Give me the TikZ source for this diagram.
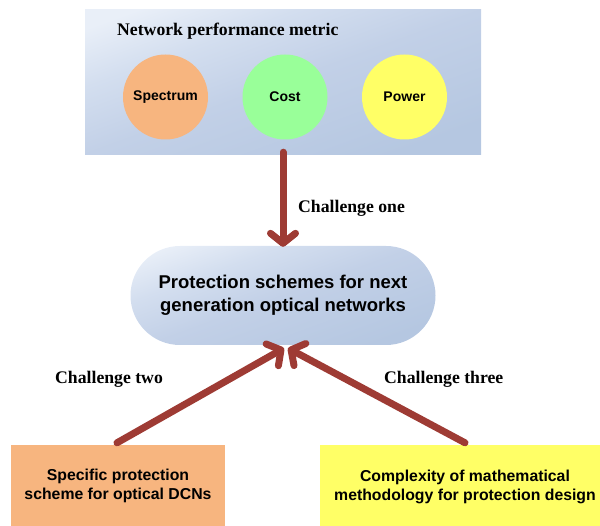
\documentclass[tikz,border=0pt]{standalone}
\usepackage{fontspec}
\setmainfont{Liberation Serif}
\setsansfont{Liberation Sans}
\usetikzlibrary{arrows.meta,shapes.misc}
\definecolor{arrowred}{HTML}{9E3B34}
\definecolor{orng}{HTML}{F7B57F}
\definecolor{grn}{HTML}{99FF99}
\definecolor{ylw}{HTML}{FFFF66}
\definecolor{bluelight}{HTML}{E9EFF8}
\definecolor{bluemidlight}{HTML}{D3DEEF}
\definecolor{bluemid}{HTML}{C2D0E7}
\definecolor{bluedark}{HTML}{B5C7E1}
\pgfdeclareverticalshading{panelshade}{100bp}{color(0bp)=(bluedark); color(25bp)=(bluedark);
  color(50bp)=(bluemid); color(65bp)=(bluemidlight); color(78bp)=(bluelight); color(100bp)=(bluelight)}
\tikzset{
  bigarrow/.style={draw=arrowred, line width=7pt, line cap=round,
    -{Straight Barb[round,length=10pt,width=25pt]}},
  metric/.style={circle, minimum size=85pt, inner sep=0pt,
    font=\sffamily\bfseries\fontsize{14}{16}\selectfont},
  seriflabel/.style={font=\rmfamily\bfseries\fontsize{17.7}{20}\selectfont, inner sep=0pt},
  bottombox/.style={inner sep=0pt, align=center,
    font=\sffamily\bfseries\fontsize{15.8}{19}\selectfont},
  bluegrad/.style={shade, shading=panelshade, shading angle=20},
}
\begin{document}
\begin{tikzpicture}[x=1pt,y=-1pt]
\useasboundingbox (0,0) rectangle (600,526);
% top panel
\node[bluegrad, minimum width=396pt, minimum height=145pt, inner sep=0pt] (panel) at (283,82.5) {};
\node[seriflabel, anchor=west] (title) at (117,31) {Network performance metric};
\node[metric, fill=orng] (spec) at (165.5,97) {Spectrum};
\node[metric, fill=grn] (cost) at (285,97) {Cost};
\node[metric, fill=ylw] (power) at (404.5,97) {Power};
% center stadium
\node[rounded rectangle, bluegrad, minimum width=305pt, minimum height=99pt, inner sep=0pt,
  align=center, font=\sffamily\bfseries\fontsize{18.5}{23}\selectfont] (prot) at (283,295.5)
  {Protection schemes for next\\generation optical networks};
% bottom boxes
\node[bottombox, fill=orng, minimum width=214pt, minimum height=82pt] (dcn) at (118,486)
  {Specific protection\\scheme for optical DCNs};
\node[fill=ylw, minimum width=282pt, minimum height=82pt, inner sep=0pt] (compbox) at (461,486) {};
\node[bottombox] (comp) at (465,487)
  {Complexity of mathematical\\methodology for protection design};
% labels
\node[seriflabel, anchor=west] (l1) at (298,208) {Challenge one};
\node[seriflabel, anchor=west] (l2) at (55,379) {Challenge two};
\node[seriflabel, anchor=west] (l3) at (384,379) {Challenge three};
% arrows
\coordinate (tipone) at ([yshift=-1pt]prot.north);
\draw[bigarrow] ([yshift=3pt]panel.south) -- (tipone);
\coordinate (tipleft) at ([xshift=1pt,yshift=-3pt]prot.south);
\coordinate (tipright) at ([xshift=5pt,yshift=-3pt]prot.south);
\coordinate (startleft) at ([xshift=-1pt,yshift=2pt]dcn.north);
\coordinate (startright) at ([xshift=4pt,yshift=2pt]compbox.north);
\draw[bigarrow] (startleft) -- (tipleft);
\draw[bigarrow] (startright) -- (tipright);
\end{tikzpicture}
\end{document}
